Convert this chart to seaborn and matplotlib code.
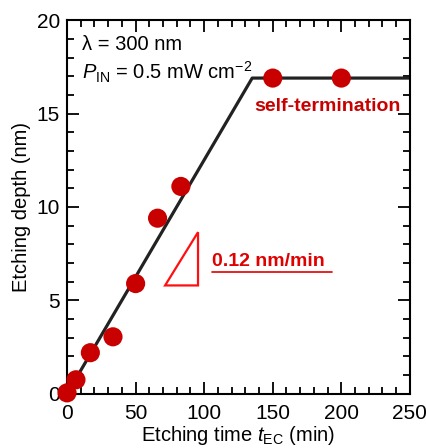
import matplotlib
matplotlib.use("Agg")
import matplotlib.pyplot as plt
import seaborn as sns
import pandas as pd
from matplotlib.ticker import MultipleLocator
from matplotlib.patches import Polygon

# Data
time_min = [0, 6.5, 17, 33.5, 50, 66, 83, 150, 200]
depth_nm = [0.05, 0.75, 2.2, 3.05, 5.9, 9.4, 11.1, 16.9, 16.9]
fit_time = [0, 135, 250]
fit_depth = [0, 16.9, 16.9]
slope_label = "0.12 nm/min"
tri_x = [71.5, 95.5, 95.5]
tri_y = [5.8, 5.8, 8.65]

sns.set_theme(style="ticks")
plt.rcParams['font.family'] = ['Liberation Sans', 'DejaVu Sans']
plt.rcParams['mathtext.fontset'] = 'custom'
plt.rcParams['mathtext.rm'] = 'Liberation Sans'
plt.rcParams['mathtext.it'] = 'Liberation Sans:italic'
plt.rcParams['mathtext.bf'] = 'Liberation Sans:bold'
plt.rcParams['text.color'] = 'black'
plt.rcParams['axes.labelcolor'] = 'black'
plt.rcParams['xtick.labelcolor'] = 'black'
plt.rcParams['ytick.labelcolor'] = 'black'

fig = plt.figure(figsize=(4.27, 4.48), dpi=100)
ax = fig.add_axes([0.157, 0.121, 0.803, 0.834])

df = pd.DataFrame({"t": time_min, "d": depth_nm})
fit = pd.DataFrame({"t": fit_time, "d": fit_depth})
sns.lineplot(data=fit, x="t", y="d", ax=ax, color="#222222", lw=2.3, zorder=2)
sns.scatterplot(data=df, x="t", y="d", ax=ax, color="#C80000", s=190,
                edgecolor="none", zorder=3, clip_on=False)

ax.set_xlim(0, 250)
ax.set_ylim(0, 20)
ax.xaxis.set_major_locator(MultipleLocator(50))
ax.xaxis.set_minor_locator(MultipleLocator(10))
ax.yaxis.set_major_locator(MultipleLocator(5))
ax.yaxis.set_minor_locator(MultipleLocator(1))
ax.tick_params(which="both", direction="in", top=True, right=True,
               color="black", width=1.3)
ax.tick_params(which="major", length=8.5, labelsize=15)
ax.tick_params(axis="x", which="major", pad=7)
ax.tick_params(axis="y", which="major", pad=5)
ax.tick_params(which="minor", length=5)
for s in ax.spines.values():
    s.set_linewidth(1.5)
    s.set_color("black")

ax.set_xlabel(r"Etching time $\it{t}_{\rm EC}$ (min)", fontsize=14.5, labelpad=1)
ax.set_ylabel("Etching depth (nm)", fontsize=14.5, labelpad=4)

ax.text(0.045, 0.96, "λ = 300 nm", transform=ax.transAxes, fontsize=14.5,
        va="top", ha="left")
ax.text(0.045, 0.895, r"$\it{P}_{\rm IN}$ = 0.5 mW cm$^{-2}$", transform=ax.transAxes,
        fontsize=14.5, va="top", ha="left")
ax.text(190, 15.4, "self-termination", color="#C80000", fontsize=14,
        fontweight="bold", ha="center", va="center")

ax.add_patch(Polygon(list(zip(tri_x, tri_y)), closed=True, fill=False,
                     edgecolor="#FF1010", lw=1.6))
ax.text(106, 7.1, slope_label, color="#E00000", fontsize=14,
        fontweight="bold", ha="left", va="center")
ax.plot([106, 193], [6.5, 6.5], color="#E00000", lw=1.2)

fig.savefig("out.png", dpi=100)
